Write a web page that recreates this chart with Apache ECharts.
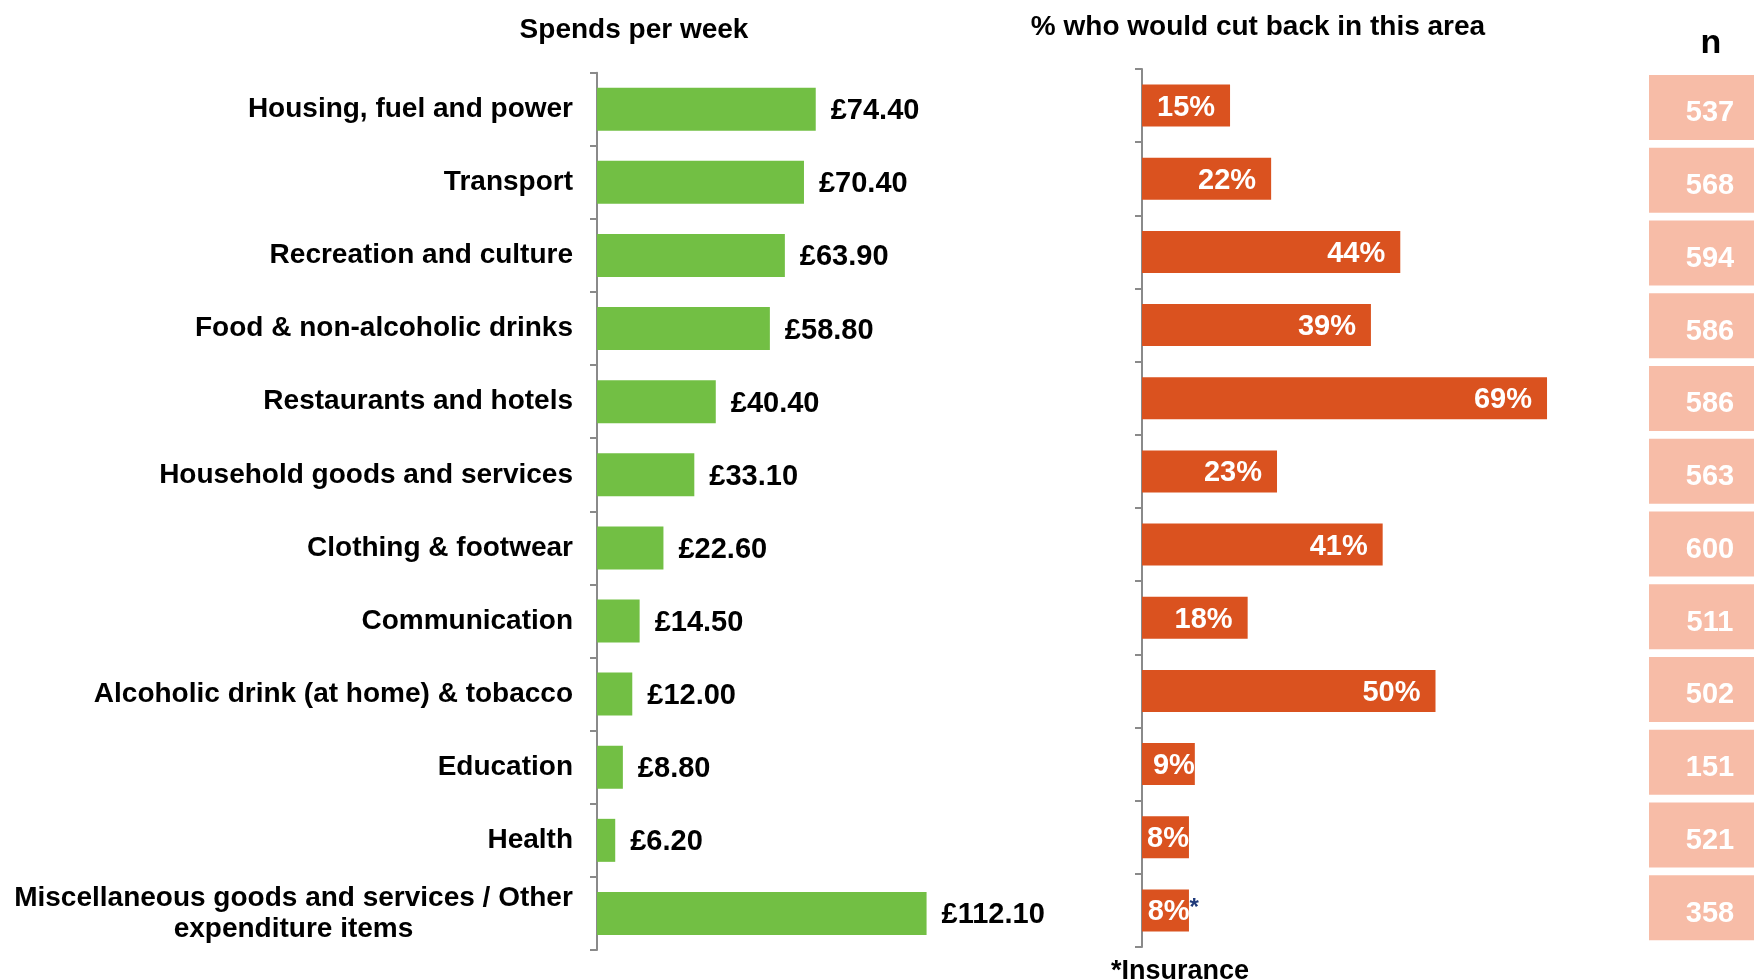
<!DOCTYPE html>
<html>
<head>
<meta charset="utf-8">
<title>Weekly spend and areas people would cut back on</title>
<script src="https://cdn.jsdelivr.net/npm/echarts@6/dist/echarts.min.js"></script>
<style>
  html, body { margin: 0; padding: 0; background: #ffffff; }
  #chart { width: 1754px; height: 980px; }
</style>
</head>
<body>
<div id="chart"></div>
<script>
// Spending categories, top to bottom
const categories = [
  'Housing, fuel and power',
  'Transport',
  'Recreation and culture',
  'Food & non-alcoholic drinks',
  'Restaurants and hotels',
  'Household goods and services',
  'Clothing & footwear',
  'Communication',
  'Alcoholic drink (at home) & tobacco',
  'Education',
  'Health',
  'Miscellaneous goods and services / Other\nexpenditure items'
];

// Average spend per week (£)
const spendPerWeek = [74.40, 70.40, 63.90, 58.80, 40.40, 33.10, 22.60, 14.50, 12.00, 8.80, 6.20, 112.10];

// Share who would cut back in each area (%)
const cutBackPct = [15, 22, 44, 39, 69, 23, 41, 18, 50, 9, 8, 8];

// Footnote marks shown after a percentage
const cutBackMark = ['', '', '', '', '', '', '', '', '', '', '', '*'];

// Base sizes
const baseN = [537, 568, 594, 586, 586, 563, 600, 511, 502, 151, 521, 358];

const FONT = '"Liberation Sans", Arial, Helvetica, sans-serif';
const GREEN = '#72BF44';
const ORANGE = '#DA521F';
const SALMON = '#F7BCA7';
const AXIS_GREY = '#8A8A8A';

const chart = echarts.init(document.getElementById('chart'), null, { renderer: 'canvas' });

// Short bars keep their label flush with the bar end; a footnote mark sits just outside
const cutBackData = cutBackPct.map((v, i) => {
  const item = { value: v, mark: cutBackMark[i] };
  if (v < 10) {
    item.label = { distance: cutBackMark[i] ? -10 : 0 };
  }
  return item;
});

const option = {
  animation: false,
  backgroundColor: '#ffffff',
  textStyle: { fontFamily: FONT },
  graphic: [
    {
      type: 'text', x: 634, y: 30,
      style: { text: 'Spends per week', font: 'bold 28px ' + FONT, fill: '#000', align: 'center', verticalAlign: 'middle' }
    },
    {
      type: 'text', x: 1258, y: 27,
      style: { text: '% who would cut back in this area', font: 'bold 28px ' + FONT, fill: '#000', align: 'center', verticalAlign: 'middle' }
    },
    {
      type: 'text', x: 1711, y: 44,
      style: { text: 'n', font: 'bold 34px ' + FONT, fill: '#000', align: 'center', verticalAlign: 'middle' }
    },
    {
      type: 'text', x: 1180, y: 972,
      style: { text: '*Insurance', font: 'bold 27px ' + FONT, fill: '#000', align: 'center', verticalAlign: 'middle' }
    }
  ],
  grid: [
    { left: 597, top: 72.7, width: 352.8, height: 877.3, containLabel: false },
    { left: 1142, top: 69, width: 469.6, height: 878, containLabel: false },
    // the n column runs off the right edge of the page
    { left: 1666, top: 71, width: 88, height: 873, containLabel: false }
  ],
  xAxis: [
    { gridIndex: 0, type: 'value', min: 0, max: 120, show: false },
    { gridIndex: 1, type: 'value', min: 0, max: 80, show: false },
    { gridIndex: 2, type: 'category', data: ['n'], show: false }
  ],
  yAxis: [
    {
      gridIndex: 0, type: 'category', data: categories, inverse: true,
      axisLine: { show: true, lineStyle: { color: AXIS_GREY, width: 2 } },
      axisTick: { show: true, length: 7, lineStyle: { color: AXIS_GREY, width: 2 } },
      axisLabel: {
        margin: 24,
        color: '#000',
        fontFamily: FONT,
        fontWeight: 'bold',
        fontSize: 28,
        lineHeight: 31,
        formatter: (v) => v.indexOf('\n') >= 0
          ? v.split('\n').map(l => '{c|' + l + '}').join('\n')
          : v,
        rich: {
          c: { width: 559, align: 'center', fontFamily: FONT, fontWeight: 'bold', fontSize: 28, lineHeight: 31, color: '#000' }
        }
      },
      splitLine: { show: false }
    },
    {
      gridIndex: 1, type: 'category', data: categories, inverse: true,
      axisLine: { show: true, lineStyle: { color: AXIS_GREY, width: 2 } },
      axisTick: { show: true, length: 7, lineStyle: { color: AXIS_GREY, width: 2 } },
      axisLabel: { show: false },
      splitLine: { show: false }
    },
    {
      gridIndex: 2, type: 'category', data: categories, inverse: true, show: false
    }
  ],
  series: [
    {
      name: 'Spends per week',
      type: 'bar',
      xAxisIndex: 0, yAxisIndex: 0,
      data: spendPerWeek,
      barWidth: 43,
      itemStyle: { color: GREEN },
      label: {
        show: true,
        position: 'right',
        distance: 15,
        offset: [0, 2],
        color: '#000',
        fontFamily: FONT,
        fontWeight: 'bold',
        fontSize: 29,
        formatter: (p) => '£' + p.value.toFixed(2)
      }
    },
    {
      name: '% who would cut back in this area',
      type: 'bar',
      xAxisIndex: 1, yAxisIndex: 1,
      data: cutBackData,
      barWidth: 42,
      itemStyle: { color: ORANGE },
      label: {
        show: true,
        position: 'insideRight',
        distance: 15,
        offset: [0, 2],
        color: '#fff',
        fontFamily: FONT,
        fontWeight: 'bold',
        fontSize: 29,
        formatter: (p) => p.data.mark
          ? '{v|' + p.value + '%}{m|' + p.data.mark + '}'
          : p.value + '%',
        rich: {
          v: { color: '#fff', fontFamily: FONT, fontWeight: 'bold', fontSize: 29 },
          m: { color: '#1F3A7A', fontFamily: FONT, fontWeight: 'bold', fontSize: 24, padding: [0, 0, 8, 0] }
        }
      }
    },
    {
      name: 'n',
      type: 'scatter',
      xAxisIndex: 2, yAxisIndex: 2,
      data: baseN.map((n, i) => ['n', categories[i], n]),
      encode: { x: 0, y: 1 },
      symbol: 'rect',
      symbolSize: [122, 65],
      itemStyle: { color: SALMON, opacity: 1 },
      label: {
        show: true,
        position: 'inside',
        offset: [0, 6],
        color: '#fff',
        fontFamily: FONT,
        fontWeight: 'bold',
        fontSize: 29,
        formatter: (p) => String(p.value[2])
      }
    }
  ]
};

chart.setOption(option);
</script>
</body>
</html>
